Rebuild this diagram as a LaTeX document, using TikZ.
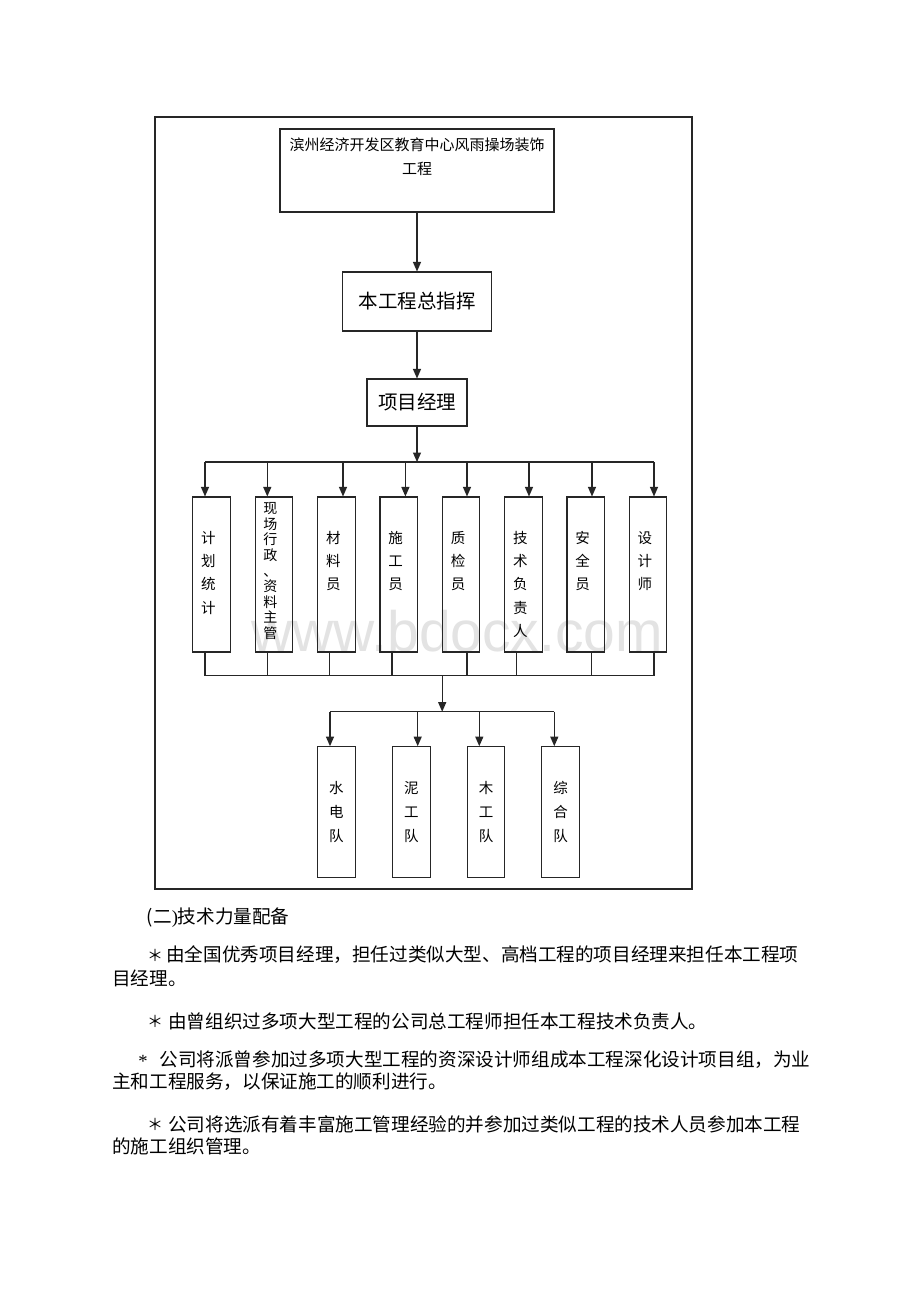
\documentclass[tikz,border=0pt]{standalone}
\usepackage{fontspec}
\setmainfont{Liberation Serif}
\newfontfamily\cjk{Noto Sans CJK SC}
\newfontfamily\wmfont{Liberation Sans}
\usetikzlibrary{arrows.meta}
\begin{document}
\begin{tikzpicture}[x=1pt,y=-1pt,
  box/.style={draw=black!85, line width=1.1pt, inner sep=0pt},
  col/.style={box, minimum width=37.5pt, minimum height=155pt},
  team/.style={box, minimum width=37.5pt, minimum height=131pt, align=center,
    font=\cjk\fontsize{14.5}{24}\selectfont},
  conn/.style={draw=black!85, line width=1.1pt},
  arr/.style={conn, -{Triangle[length=9.5pt,width=8pt]}},
  vt/.style={font=\cjk\fontsize{14.5}{23.3}\selectfont, align=center, inner sep=0pt, anchor=north},
  body/.style={font=\cjk\fontsize{18.6}{22}\selectfont, inner sep=0pt, anchor=west},
  star/.style={font=\cjk\fontsize{16}{22}\selectfont, inner sep=0pt},
]
\fill[white] (0,0) rectangle (920,1302);
\useasboundingbox (0,0) rectangle (920,1302);

% watermark
\node[font=\wmfont\fontsize{57}{60}\selectfont, text=black!11, anchor=base west, inner sep=0pt] (wm) at (251,651.7) {www.bdocx.com};

% frame
\node[draw=black!85, line width=1.4pt, minimum width=537pt, minimum height=772pt, inner sep=0pt] (frame) at (423.5,503) {};

% top levels
\node[box, minimum width=274pt, minimum height=83pt] (top) at (417,170.5) {};
\node[font=\cjk\fontsize{15}{24}\selectfont, align=center, inner sep=0pt] (toptxt) at (417,157) {滨州经济开发区教育中心风雨操场装饰\\工程};
\node[box, minimum width=149pt, minimum height=59pt, font=\cjk\fontsize{19.5}{20}\selectfont] (cmd) at (417,301.5) {本工程总指挥};
\node[box, minimum width=100pt, minimum height=47pt, font=\cjk\fontsize{19.5}{20}\selectfont] (pm) at (417,402.5) {项目经理};

\draw[arr] (top.south) -- (cmd.north);
\draw[arr] (cmd.south) -- (pm.north);
\coordinate (bus1) at (417,462);
\draw[arr] (pm.south) -- (bus1);

% staff columns
\node[col] (c1) at (211.4,574.5) {};
\node[col] (c2) at (273.8,574.5) {};
\node[col] (c3) at (336.3,574.5) {};
\node[col] (c4) at (398.7,574.5) {};
\node[col] (c5) at (461.0,574.5) {};
\node[col] (c6) at (523.3,574.5) {};
\node[col] (c7) at (585.7,574.5) {};
\node[col] (c8) at (647.9,574.5) {};

\node[vt] (c1t) at ([xshift=-3pt,yshift=-34.5pt]c1.north) {计\\划\\统\\计};
\node[vt, font=\cjk\fontsize{14}{15.6}\selectfont] (c2t) at ([xshift=-3.5pt,yshift=-6pt]c2.north) {现\\场\\行\\政\\、\\资\\料\\主\\管};
\node[vt] (c3t) at ([xshift=-3pt,yshift=-34.5pt]c3.north) {材\\料\\员};
\node[vt] (c4t) at ([xshift=-3pt,yshift=-34.5pt]c4.north) {施\\工\\员};
\node[vt] (c5t) at ([xshift=-3pt,yshift=-34.5pt]c5.north) {质\\检\\员};
\node[vt] (c6t) at ([xshift=-3pt,yshift=-34.5pt]c6.north) {技\\术\\负\\责\\人};
\node[vt] (c7t) at ([xshift=-3pt,yshift=-34.5pt]c7.north) {安\\全\\员};
\node[vt] (c8t) at ([xshift=-3pt,yshift=-34.5pt]c8.north) {设\\计\\师};

% upper bus
\coordinate (bL) at ([xshift=-6.4pt]c1.north |- bus1);
\coordinate (bR) at ([xshift=6.1pt]c8.north |- bus1);
\draw[conn] (bL) -- (bR);
\draw[arr] ([xshift=-6.4pt]c1.north |- bus1) -- ([xshift=-6.4pt]c1.north);
\draw[arr] ([xshift=-6.5pt]c2.north |- bus1) -- ([xshift=-6.5pt]c2.north);
\draw[arr] ([xshift=6.7pt]c3.north |- bus1) -- ([xshift=6.7pt]c3.north);
\draw[arr] ([xshift=6.7pt]c4.north |- bus1) -- ([xshift=6.7pt]c4.north);
\draw[arr] ([xshift=6pt]c5.north |- bus1) -- ([xshift=6pt]c5.north);
\draw[arr] ([xshift=5.7pt]c6.north |- bus1) -- ([xshift=5.7pt]c6.north);
\draw[arr] ([xshift=6.3pt]c7.north |- bus1) -- ([xshift=6.3pt]c7.north);
\draw[arr] ([xshift=6.1pt]c8.north |- bus1) -- ([xshift=6.1pt]c8.north);

% lower bus
\coordinate (bus2) at (442.2,675.7);
\draw[conn] ([xshift=-6.4pt]c1.south) -- ([xshift=-6.4pt]c1.south |- bus2);
\draw[conn] ([xshift=-6.5pt]c2.south) -- ([xshift=-6.5pt]c2.south |- bus2);
\draw[conn] ([xshift=-6.6pt]c3.south) -- ([xshift=-6.6pt]c3.south |- bus2);
\draw[conn] ([xshift=-6.7pt]c4.south) -- ([xshift=-6.7pt]c4.south |- bus2);
\draw[conn] ([xshift=6pt]c5.south) -- ([xshift=6pt]c5.south |- bus2);
\draw[conn] ([xshift=-6.6pt]c6.south) -- ([xshift=-6.6pt]c6.south |- bus2);
\draw[conn] ([xshift=6pt]c7.south) -- ([xshift=6pt]c7.south |- bus2);
\draw[conn] ([xshift=6.1pt]c8.south) -- ([xshift=6.1pt]c8.south |- bus2);
\draw[conn] ([xshift=-6.4pt]c1.south |- bus2) -- ([xshift=6.1pt]c8.south |- bus2);

% teams
\node[team] (t1) at (336.3,812.2) {水\\电\\队};
\node[team] (t2) at (411.3,812.2) {泥\\工\\队};
\node[team] (t3) at (486.0,812.2) {木\\工\\队};
\node[team] (t4) at (560.5,812.2) {综\\合\\队};

\coordinate (bus3) at (442.2,711.7);
\draw[arr] (bus2) -- (bus3);
\draw[conn] ([xshift=-6.3pt]t1.north |- bus3) -- ([xshift=-6.2pt]t4.north |- bus3);
\draw[arr] ([xshift=-6.3pt]t1.north |- bus3) -- ([xshift=-6.3pt]t1.north);
\draw[arr] ([xshift=6.4pt]t2.north |- bus3) -- ([xshift=6.4pt]t2.north);
\draw[arr] ([xshift=-6.7pt]t3.north |- bus3) -- ([xshift=-6.7pt]t3.north);
\draw[arr] ([xshift=-6.2pt]t4.north |- bus3) -- ([xshift=-6.2pt]t4.north);

% body text
\node[body] (h2) at (146.7,918) {(\cjk 二\rmfamily)\cjk 技术力量配备};
\node[star] (s1) at (155,955) {＊};
\node[body] (p1a) at (166,955) {由全国优秀项目经理，担任过类似大型、高档工程的项目经理来担任本工程项};
\node[body] (p1b) at (112,978) {目经理。};
\node[star] (s2) at (155,1021) {＊};
\node[body] (p2a) at (168,1021) {由曾组织过多项大型工程的公司总工程师担任本工程技术负责人。};
\node[font=\fontsize{18.6}{22}\selectfont, inner sep=0pt, anchor=base] (s3) at (143,1067) {*};
\node[body] (p3a) at (159.3,1060) {公司将派曾参加过多项大型工程的资深设计师组成本工程深化设计项目组，为业};
\node[body] (p3b) at (112,1082) {主和工程服务，以保证施工的顺利进行。};
\node[star] (s4) at (155,1124) {＊};
\node[body] (p4a) at (168,1124) {公司将选派有着丰富施工管理经验的并参加过类似工程的技术人员参加本工程};
\node[body] (p4b) at (112,1146) {的施工组织管理。};
\end{tikzpicture}
\end{document}
